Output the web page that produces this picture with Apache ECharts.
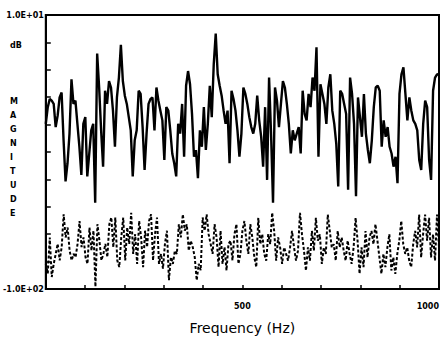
<!DOCTYPE html>
<html>
<head>
<meta charset="utf-8">
<script src="https://cdn.jsdelivr.net/npm/echarts@6/dist/echarts.min.js"></script>
<style>html,body{margin:0;padding:0;background:#fff;}#c{width:442px;height:340px;}</style>
</head>
<body>
<div id="c"></div>
<script>
// ---- data ----
const freqRange = [0, 1000];          // Hz
const magRange = [-100, 10];          // dB
const xTickLabels = { 500: '500', 1000: '1000' };
const yTickLabels = { '10': '1.0E+01', '-100': '-1.0E+02' };
const yAxisUnit = 'dB';
const yAxisTitle = 'MAGNITUDE';
const xAxisTitle = 'Frequency (Hz)';

// upper (solid) spectrum, dB, evenly spaced across 0..1000 Hz
const upperDb = [
  -33.7, -27.0, -23.7, -24.4, -25.7, -35.0, -30.4, -23.1, -21.1, -40.3,
  -56.8, -49.5, -37.6, -15.8, -25.7, -24.4, -33.7, -42.9, -54.2, -33.7,
  -31.0, -54.8, -45.6, -36.3, -33.7, -65.4, -5.5, -19.1, -36.3, -50.9,
  -20.4, -25.7, -16.5, -19.1, -28.4, -42.9, -23.1, -15.1, -2.0, -16.5,
  -22.4, -25.7, -31.0, -36.3, -54.8, -40.3, -36.3, -20.4, -21.7, -35.0,
  -52.2, -37.6, -25.7, -23.7, -23.1, -36.3, -19.1, -24.4, -28.4, -32.3,
  -48.2, -27.0, -28.4, -36.3, -45.6, -49.5, -54.8, -33.7, -37.6, -25.7,
  -46.9, -18.4, -12.5, -17.8, -29.7, -46.9, -44.2, -55.5, -36.3, -42.9,
  -27.0, -44.2, -33.7, -18.4, -31.0, -9.8, 2.5, -13.8, -18.4, -22.4,
  -28.4, -33.7, -28.4, -49.5, -20.4, -23.7, -28.4, -36.3, -46.9, -37.6,
  -19.1, -21.7, -25.7, -31.0, -35.0, -37.6, -33.7, -22.4, -32.3, -38.9,
  -50.9, -27.0, -56.2, -15.1, -37.6, -65.4, -19.1, -24.4, -35.0, -25.7,
  -16.5, -19.1, -25.7, -33.7, -45.6, -36.3, -40.3, -37.6, -35.0, -45.6,
  -20.4, -29.7, -32.3, -21.7, -27.0, -15.1, -20.4, -3.0, -46.9, -17.8,
  -21.7, -25.7, -33.7, -19.1, -13.8, -28.4, -33.7, -41.6, -58.8, -20.4,
  -21.7, -25.7, -29.7, -60.1, -15.1, -21.7, -33.7, -62.8, -23.1, -31.0,
  -38.9, -21.7, -37.6, -44.2, -49.5, -40.3, -27.0, -19.1, -18.4, -20.4,
  -42.9, -32.3, -38.9, -35.0, -42.9, -45.6, -50.9, -46.9, -57.5, -21.7,
  -13.8, -11.0, -21.7, -32.3, -23.1, -28.4, -32.3, -33.7, -36.3, -48.2,
  -52.2, -33.7, -24.4, -27.0, -48.2, -56.2, -20.4, -15.1, -13.8, -14.0
];

// lower (dotted) spectrum, dB, evenly spaced across 0..1000 Hz
const lowerDb = [
  -89.9, -93.8, -79.3, -95.2, -89.9, -85.9, -81.9, -88.5, -83.2, -70.0,
  -79.3, -75.3, -84.6, -88.5, -85.9, -87.2, -81.9, -72.7, -83.2, -79.3,
  -87.2, -89.9, -75.3, -84.6, -76.6, -99.1, -74.0, -80.6, -88.5, -85.9,
  -81.9, -87.2, -74.0, -71.3, -83.2, -71.3, -88.5, -91.2, -79.3, -71.3,
  -88.5, -75.3, -81.9, -69.4, -85.9, -78.0, -89.9, -72.7, -79.3, -91.2,
  -76.6, -83.2, -72.7, -70.0, -88.5, -78.0, -71.3, -89.9, -85.9, -91.8,
  -81.9, -76.6, -96.5, -87.2, -89.9, -84.6, -85.9, -74.0, -79.3, -70.0,
  -76.6, -74.0, -84.6, -80.6, -83.2, -87.2, -96.5, -89.9, -92.5, -71.3,
  -76.6, -70.0, -78.0, -81.9, -85.9, -74.0, -79.3, -91.2, -76.6, -89.9,
  -83.2, -92.5, -81.9, -80.6, -88.5, -78.0, -74.0, -89.9, -85.9,
  -76.7, -72.7, -80.6, -85.9, -74.0, -79.3, -87.3, -91.2, -71.4, -82.0,
  -78.0, -85.9, -88.6, -78.0, -82.0, -69.4, -76.7, -88.6, -79.3, -83.3,
  -89.9, -83.3, -85.9, -88.6, -83.3, -76.7, -83.3, -88.6, -84.6, -69.4,
  -78.0, -84.6, -92.6, -83.3, -88.6, -76.7, -84.6, -71.4, -80.6, -78.0,
  -89.9, -83.3, -85.9, -70.1, -76.7, -83.3, -82.0, -88.6, -76.7, -83.3,
  -79.3, -84.6, -88.6, -80.6, -85.9, -89.9, -83.3, -71.4, -80.6, -93.9,
  -83.3, -91.2, -76.7, -87.3, -79.3, -76.7, -82.0, -74.0, -80.6, -87.3,
  -93.9, -85.9, -91.2, -83.3, -78.0, -92.6, -87.3, -93.9, -85.9, -80.6,
  -72.7, -82.0, -85.9, -83.3, -88.6, -91.2, -82.0, -76.7, -83.3, -70.1,
  -87.3, -78.0, -70.1, -80.6, -71.4, -87.3, -78.0, -88.6, -70.1, -83.3
];

// ---- chart ----
function toPairs(vals) {
  const step = (freqRange[1] - freqRange[0]) / (vals.length - 1);
  return vals.map((v, i) => [freqRange[0] + i * step, v]);
}

const chart = echarts.init(document.getElementById('c'), null, { renderer: 'svg' });
const labelFont = { fontFamily: 'DejaVu Sans', fontWeight: 'bold', fontSize: 8, color: '#000' };

chart.setOption({
  animation: false,
  backgroundColor: '#fff',
  grid: { left: 42, right: 3, top: 15, bottom: 49, show: true, borderColor: '#000', borderWidth: 2, backgroundColor: 'transparent' },
  xAxis: {
    type: 'value', min: freqRange[0], max: freqRange[1], interval: 100,
    axisLine: { show: true, onZero: false, lineStyle: { color: '#000', width: 2 } },
    axisTick: { show: true, inside: true, length: 4, lineStyle: { color: '#000', width: 1.5 } },
    splitLine: { show: false },
    axisLabel: Object.assign({}, labelFont, {
      margin: 13, showMaxLabel: true, alignMaxLabel: 'right',
      formatter: v => xTickLabels[v] || ''
    }),
    name: xAxisTitle, nameLocation: 'middle', nameGap: 32,
    nameTextStyle: { fontFamily: 'DejaVu Sans', fontSize: 14, color: '#000' }
  },
  yAxis: {
    type: 'value', min: magRange[0], max: magRange[1], interval: 11,
    axisLine: { show: true, onZero: false, lineStyle: { color: '#000', width: 2 } },
    axisTick: { show: true, inside: true, length: 5, lineStyle: { color: '#000', width: 1.5 } },
    splitLine: { show: false },
    axisLabel: Object.assign({}, labelFont, {
      margin: 2, showMinLabel: true, showMaxLabel: true,
      formatter: v => yTickLabels[String(Math.round(v))] || ''
    })
  },
  graphic: [
    { type: 'text', left: 10, top: 41, style: { text: yAxisUnit, font: 'bold 8px "DejaVu Sans"', fill: '#000' } },
    { type: 'text', left: 10, top: 94, style: { text: yAxisTitle.split('').join('\n'), font: 'bold 8px "DejaVu Sans"', lineHeight: 14, fill: '#000', align: 'center' } }
  ],
  series: [
    {
      type: 'line', data: toPairs(upperDb), showSymbol: false, clip: true,
      lineStyle: { color: '#000', width: 2.4 }
    },
    {
      type: 'line', data: toPairs(lowerDb), showSymbol: false, clip: true,
      lineStyle: { color: '#000', width: 2, type: [3, 2] }
    }
  ]
});
</script>
</body>
</html>
